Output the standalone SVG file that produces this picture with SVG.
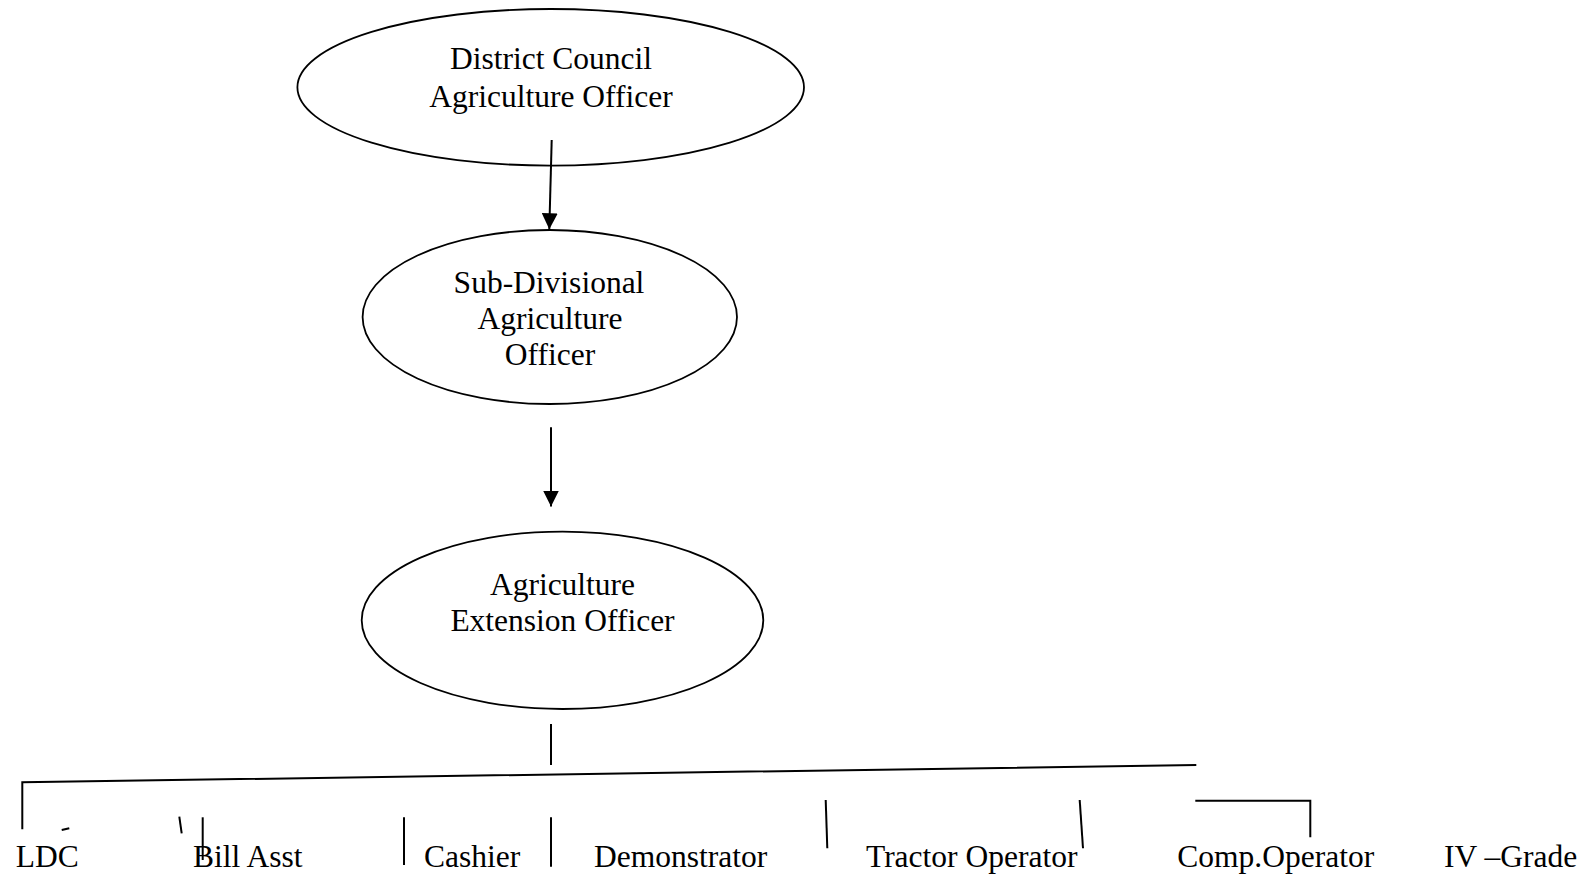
<svg xmlns="http://www.w3.org/2000/svg" width="1583" height="874" viewBox="0 0 1583 874">
<defs>
<style>
.node ellipse{fill:#fff;stroke:#000;stroke-width:1.8}
text{font-family:"Liberation Serif","Times New Roman",serif;font-size:31.5px;fill:#000}
.c text{text-anchor:middle}
#connectors line,#connectors polyline{stroke:#000;stroke-width:2;fill:none}
</style>
<marker id="arr" markerWidth="16" markerHeight="16" refX="16" refY="8" orient="auto" markerUnits="userSpaceOnUse"><path d="M0,0 L16,8 L0,16 z" fill="#000"/></marker>
</defs>
<rect width="1583" height="874" fill="#fff"/>
<g id="n-district" class="node c">
<ellipse cx="550.7" cy="87.3" rx="253.3" ry="78.3"/>
<text x="551" y="68.5">District Council</text>
<text x="551" y="107">Agriculture Officer</text>
</g>
<g id="n-subdiv" class="node c">
<ellipse cx="549.8" cy="317" rx="187.2" ry="87"/>
<text x="549" y="293">Sub-Divisional</text>
<text x="550" y="329">Agriculture</text>
<text x="550" y="364.5">Officer</text>
</g>
<g id="n-aeo" class="node c">
<ellipse cx="562.5" cy="620.3" rx="200.8" ry="88.7"/>
<text x="562.5" y="595">Agriculture</text>
<text x="562.5" y="630.5">Extension Officer</text>
</g>
<g id="connectors">
<line x1="551.7" y1="140" x2="549.3" y2="229.3" marker-end="url(#arr)"/>
<line x1="551" y1="427.3" x2="551" y2="506.5" marker-end="url(#arr)"/>
<line x1="551" y1="724" x2="551" y2="765"/>
<polyline points="22.3,829.3 22.3,782.3 1196.3,765"/>
<line x1="61.7" y1="830" x2="69.3" y2="828.3"/>
<line x1="179.3" y1="816.7" x2="181.7" y2="833.3"/>
<line x1="202.7" y1="817.3" x2="202.7" y2="860"/>
<line x1="404" y1="817.3" x2="404" y2="865"/>
<line x1="551" y1="817.3" x2="551" y2="866.7"/>
<line x1="825.7" y1="800" x2="827.3" y2="848.3"/>
<line x1="1079.7" y1="800" x2="1083" y2="848.3"/>
<polyline points="1195.3,800.7 1310.3,800.7 1310.3,837.3"/>
</g>
<g id="n-ldc"><text x="15.7" y="867">LDC</text></g>
<g id="n-bill"><text x="193" y="867">Bill Asst</text></g>
<g id="n-cashier"><text x="424" y="867">Cashier</text></g>
<g id="n-demo"><text x="594" y="867">Demonstrator</text></g>
<g id="n-tractor"><text x="866" y="867">Tractor Operator</text></g>
<g id="n-comp"><text x="1177.3" y="867">Comp.Operator</text></g>
<g id="n-iv"><text x="1444" y="867">IV –Grade</text></g>
</svg>
